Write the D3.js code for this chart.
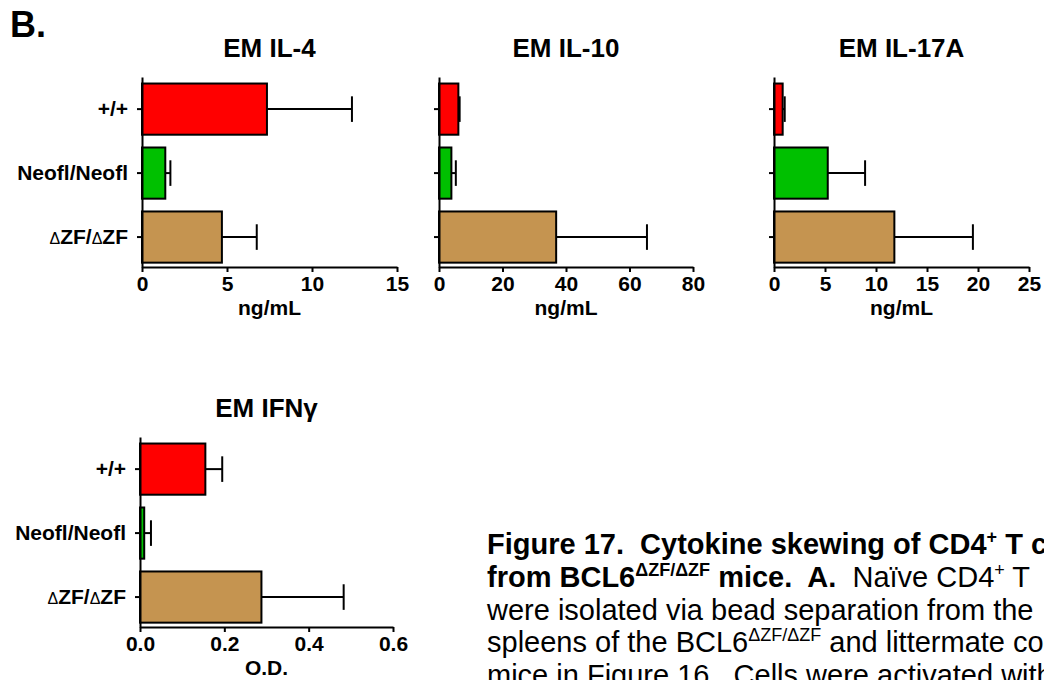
<!DOCTYPE html>
<html>
<head>
<meta charset="utf-8">
<script src="https://cdn.jsdelivr.net/npm/d3@7"></script>
<style>
  html, body { margin: 0; padding: 0; background: #fff; overflow: hidden; }
  svg { display: block; }
  text { font-family: "Liberation Sans", Arial, Helvetica, sans-serif; }
</style>
</head>
<body>
<svg id="fig" width="1044" height="680"></svg>
<script>
// Genotype groups (shared by every panel)
const categories = ["+/+", "Neofl/Neofl", "ΔZF/ΔZF"];
const barColors = ["#ff0000", "#00c000", "#c59450"];

// EM IL-4 (ng/mL): mean and upper error
const il4Mean = [7.35, 1.37, 4.7];
const il4Err  = [5.0, 0.3, 2.05];
const il4Ticks = [0, 5, 10, 15];

// EM IL-10 (ng/mL)
const il10Mean = [6.1, 3.9, 36.9];
const il10Err  = [0.4, 1.4, 28.6];
const il10Ticks = [0, 20, 40, 60, 80];

// EM IL-17A (ng/mL)
const il17Mean = [0.85, 5.27, 11.8];
const il17Err  = [0.2, 3.66, 7.7];
const il17Ticks = [0, 5, 10, 15, 20, 25];

// EM IFNγ (O.D.)
const ifngMean = [0.155, 0.010, 0.288];
const ifngErr  = [0.04, 0.016, 0.195];
const ifngTicks = [0.0, 0.2, 0.4, 0.6];

// Figure legend text, segment by segment: b = bold, r = regular, s = superscript
const captionLines = [
  [["Figure 17.  Cytokine skewing of CD4", "b"], ["+", "bs"], [" T c", "b"]],
  [["from BCL6", "b"], ["ΔZF/ΔZF", "bs"], [" mice.  A.", "b"], ["  Naïve CD4", "r"], ["+", "rs"], [" T", "r"]],
  [["were isolated via bead separation from the", "r"]],
  [["spleens of the BCL6", "r"], ["ΔZF/ΔZF", "rs"], [" and littermate co", "r"]],
  [["mice in Figure 16.  Cells were activated with", "r"]]
];

const svg = d3.select("#fig");
const FONT = '"Liberation Sans", Arial, Helvetica, sans-serif';

svg.append("text")
  .attr("x", 10).attr("y", 37)
  .attr("font-size", 36).attr("font-weight", "bold")
  .text("B.");

function drawPanel(p) {
  const plotH = 190;
  const bottom = p.top + plotH;
  const x = d3.scaleLinear()
    .domain([p.ticks[0], p.ticks[p.ticks.length - 1]])
    .range([p.x0, p.x1]);
  const y = d3.scaleBand()
    .domain(categories)
    .range([p.top, bottom])
    .paddingInner(0.2)
    .paddingOuter(0.085)
    .align(0.6);

  const g = svg.append("g");

  // title
  g.append("text")
    .attr("x", (p.x0 + p.x1) / 2)
    .attr("y", p.top - 20)
    .attr("text-anchor", "middle")
    .attr("font-size", 26)
    .attr("font-weight", "bold")
    .text(p.title);

  const rows = categories.map((c, i) => ({ c, i, m: p.mean[i], e: p.err[i] }));

  // error bars (upper side only)
  const eb = g.append("g").attr("stroke", "#000").attr("stroke-width", 2);
  eb.selectAll("line.stem").data(rows).join("line")
    .attr("x1", d => x(d.m)).attr("x2", d => x(d.m + d.e))
    .attr("y1", d => y(d.c) + y.bandwidth() / 2)
    .attr("y2", d => y(d.c) + y.bandwidth() / 2);
  eb.selectAll("line.cap").data(rows).join("line")
    .attr("x1", d => x(d.m + d.e)).attr("x2", d => x(d.m + d.e))
    .attr("y1", d => y(d.c) + y.bandwidth() * 0.25)
    .attr("y2", d => y(d.c) + y.bandwidth() * 0.75);

  // bars
  g.selectAll("rect.bar").data(rows).join("rect")
    .attr("class", "bar")
    .attr("x", x(0))
    .attr("y", d => y(d.c))
    .attr("width", d => x(d.m) - x(0))
    .attr("height", y.bandwidth())
    .attr("fill", d => barColors[d.i])
    .attr("stroke", "#000")
    .attr("stroke-width", 2);

  // x axis
  const xa = g.append("g")
    .attr("transform", `translate(0,${bottom})`)
    .call(d3.axisBottom(x).tickValues(p.ticks).tickFormat(p.fmt)
      .tickSize(5).tickSizeOuter(0).tickPadding(4));
  // y axis
  const ya = g.append("g")
    .attr("transform", `translate(${p.x0},0)`)
    .call(d3.axisLeft(y).tickSize(5).tickSizeOuter(0).tickPadding(9));

  [xa, ya].forEach(a => {
    a.select(".domain").attr("stroke-width", 2).attr("stroke", "#000");
    a.selectAll(".tick line").attr("stroke-width", 2).attr("stroke", "#000");
    a.selectAll("text")
      .attr("font-family", FONT)
      .attr("font-size", 21)
      .attr("font-weight", "bold")
      .attr("fill", "#000");
  });

  if (!p.labels) {
    ya.selectAll(".tick text").remove();
  } else {
    ya.selectAll(".tick text").each(function (d) {
      if (d.indexOf("Δ") < 0) return;
      const t = d3.select(this).text("");
      d.split(/(Δ)/).filter(s => s.length).forEach(s => {
        const ts = t.append("tspan").text(s);
        if (s === "Δ") ts.attr("font-weight", "normal").attr("font-size", 16);
      });
    });
  }

  // axis label
  g.append("text")
    .attr("x", (p.x0 + p.x1) / 2)
    .attr("y", bottom + 48)
    .attr("text-anchor", "middle")
    .attr("font-size", 21)
    .attr("font-weight", "bold")
    .text(p.xlabel);
}

const fmtInt = d3.format("d");
const fmtOD = d3.format(".1f");

drawPanel({ title: "EM IL-4", mean: il4Mean, err: il4Err, ticks: il4Ticks, fmt: fmtInt,
  xlabel: "ng/mL", x0: 142, x1: 397, top: 77, labels: true });
drawPanel({ title: "EM IL-10", mean: il10Mean, err: il10Err, ticks: il10Ticks, fmt: fmtInt,
  xlabel: "ng/mL", x0: 439, x1: 693, top: 77, labels: false });
drawPanel({ title: "EM IL-17A", mean: il17Mean, err: il17Err, ticks: il17Ticks, fmt: fmtInt,
  xlabel: "ng/mL", x0: 774, x1: 1029, top: 77, labels: false });
drawPanel({ title: "EM IFNγ", mean: ifngMean, err: ifngErr, ticks: ifngTicks, fmt: fmtOD,
  xlabel: "O.D.", x0: 140, x1: 393, top: 437, labels: true });

// figure legend
const capY = [554, 587, 620, 652, 685];
captionLines.forEach((segs, li) => {
  const t = svg.append("text")
    .attr("x", 487).attr("y", capY[li])
    .attr("font-size", 29)
    .style("white-space", "pre");
  let shifted = false;
  segs.forEach(([s, st]) => {
    const ts = t.append("tspan").text(s)
      .attr("font-weight", st[0] === "b" ? "bold" : "normal");
    const sup = st.length > 1;
    if (sup) {
      ts.attr("font-size", 18).attr("dy", shifted ? 0 : -11);
      shifted = true;
    } else if (shifted) {
      ts.attr("dy", 11);
      shifted = false;
    }
  });
});
</script>
</body>
</html>
